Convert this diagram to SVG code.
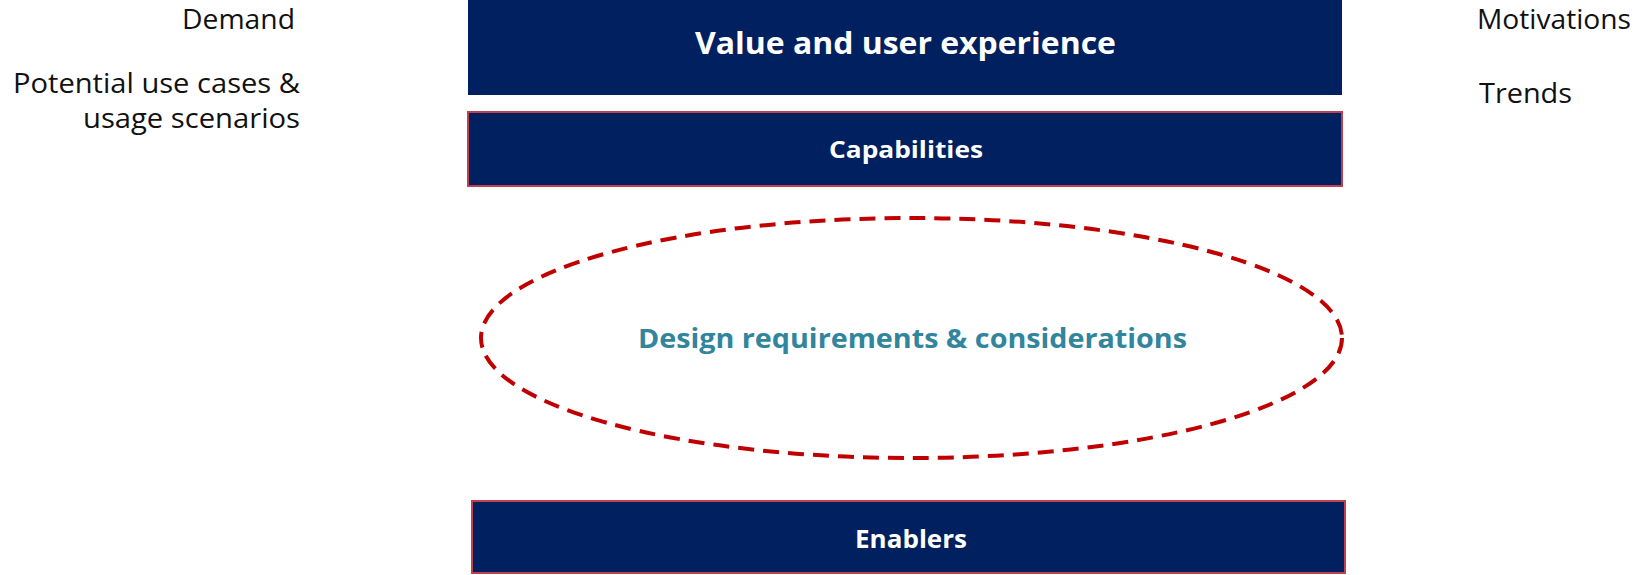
<svg xmlns="http://www.w3.org/2000/svg" width="1639" height="575" viewBox="0 0 1639 575">
<style>
.box{fill:#00205f}
.boxr{fill:#00205f;stroke:#c0404f;stroke-width:2}
.wt{fill:#fff;font-family:"Open Sans","Liberation Sans",sans-serif;font-weight:bold;text-anchor:middle}
.side{fill:#111;font-family:"Open Sans","Liberation Sans",sans-serif;font-size:27px}
</style>
<rect width="1639" height="575" fill="#fff"/>
<g id="value">
<rect class="box" x="468" y="0" width="874" height="95"/>
<text class="wt" x="905.5" y="54" font-size="30" textLength="421" lengthAdjust="spacingAndGlyphs">Value and user experience</text>
</g>
<g id="capabilities">
<rect class="boxr" x="468" y="112" width="874" height="74"/>
<text class="wt" x="906" y="158" font-size="24" textLength="154" lengthAdjust="spacingAndGlyphs">Capabilities</text>
</g>
<g id="design">
<ellipse cx="911.5" cy="338" rx="430.5" ry="120" fill="none" stroke="#c00000" stroke-width="4" stroke-dasharray="16 9"/>
<text x="912.5" y="348" font-family="'Open Sans','Liberation Sans',sans-serif" font-weight="bold" font-size="26" fill="#31859c" text-anchor="middle" textLength="549" lengthAdjust="spacingAndGlyphs">Design requirements &amp; considerations</text>
</g>
<g id="enablers">
<rect class="boxr" x="472" y="501" width="873" height="72"/>
<text class="wt" x="911" y="548" font-size="25" textLength="112" lengthAdjust="spacingAndGlyphs">Enablers</text>
</g>
<g id="left">
<text class="side" x="295" y="29" text-anchor="end" textLength="113" lengthAdjust="spacingAndGlyphs">Demand</text>
<text class="side" x="300" y="93" text-anchor="end" textLength="287" lengthAdjust="spacingAndGlyphs">Potential use cases &amp;</text>
<text class="side" x="300" y="128" text-anchor="end" textLength="217" lengthAdjust="spacingAndGlyphs">usage scenarios</text>
</g>
<g id="right">
<text class="side" x="1477" y="29" textLength="154" lengthAdjust="spacingAndGlyphs">Motivations</text>
<text class="side" x="1479" y="103" textLength="93" lengthAdjust="spacingAndGlyphs">Trends</text>
</g>
<g id="connectors"></g>
</svg>
